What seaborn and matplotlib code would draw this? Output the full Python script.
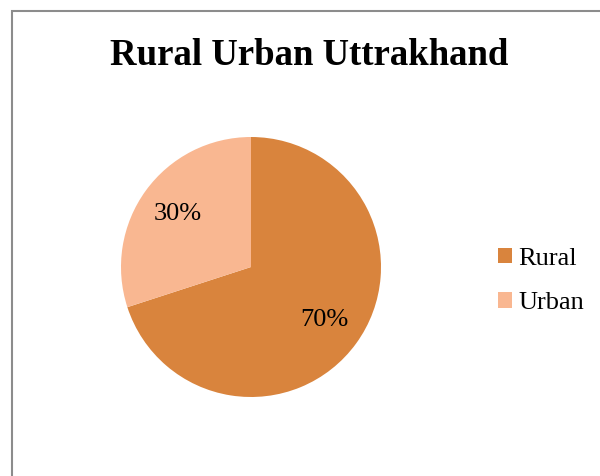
import matplotlib
matplotlib.use("Agg")
import matplotlib.pyplot as plt
import seaborn as sns
from matplotlib.patches import Rectangle

categories = ["Rural", "Urban"]
values = [70, 30]
colors = ["#D9843D", "#F9B791"]
title = "Rural Urban Uttrakhand"

sns.set_theme(style="white")
plt.rcParams['font.family'] = ['Liberation Serif', 'DejaVu Serif']

fig = plt.figure(figsize=(6, 4.76), dpi=100)
fig.patch.set_facecolor("white")

# outer frame
fig.patches.append(Rectangle((12/600, -0.05), 1.1, (476-11)/476 + 0.05,
                             transform=fig.transFigure, fill=False,
                             edgecolor="#8c8c8c", linewidth=1.5, zorder=0))

ax = fig.add_axes([121/600, (476-267-130)/476, 260/600, 260/476])
wedges, texts, autotexts = ax.pie(values, colors=colors, startangle=90,
                                  counterclock=False, autopct="%d%%",
                                  pctdistance=0.7, radius=1.0,
                                  wedgeprops=dict(linewidth=0),
                                  textprops=dict(fontsize=19, color="black"))
ax.set_xlim(-1, 1)
ax.set_ylim(-1, 1)
ax.set_aspect("equal")

fig.text(309/600, 1 - 65/476, title, ha="center", va="baseline",
         fontsize=26.5, fontweight="bold", color="black")

fig.legend(wedges, categories, loc="center left",
           bbox_to_anchor=(498/600, 1 - 281/476), frameon=False,
           fontsize=19, handlelength=0.53, handleheight=0.53,
           handletextpad=0.23, labelspacing=0.85,
           borderpad=0, borderaxespad=0, labelcolor="black")

fig.savefig("out.png", dpi=100, facecolor="white")
